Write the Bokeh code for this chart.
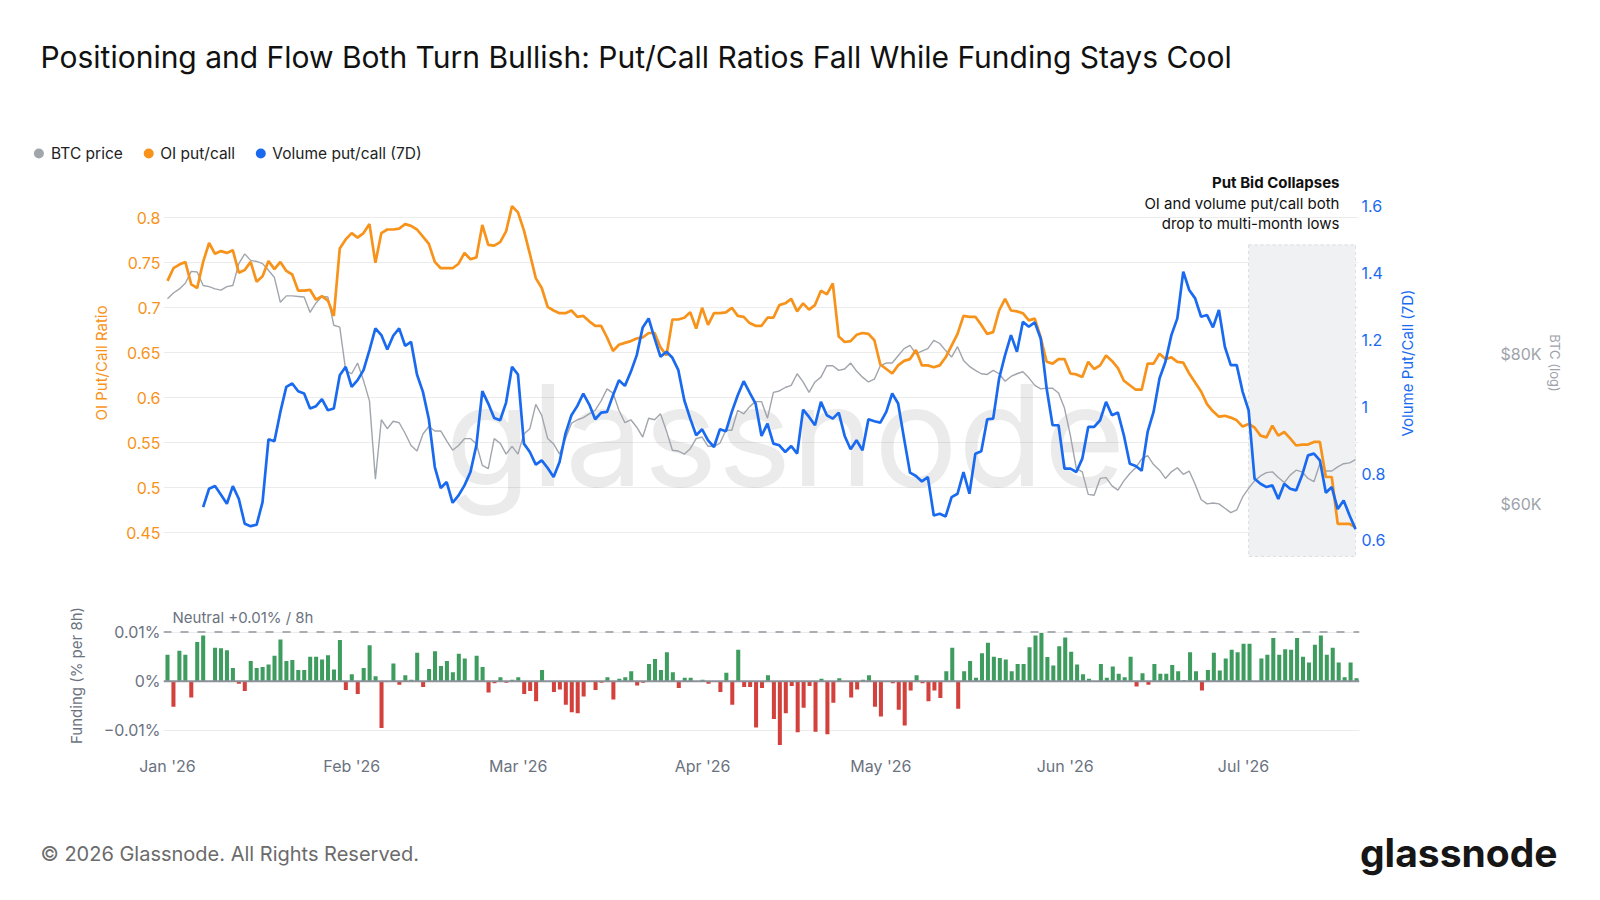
import math
import pandas as pd
from bokeh.plotting import figure
from bokeh.models import (Range1d, LinearAxis, LogAxis, LogScale, FixedTicker,
                          CustomJSTickFormatter, BoxAnnotation, Label, Span)
from bokeh.layouts import column, row
from bokeh.embed import file_html
from bokeh.resources import INLINE
from bokeh.core.properties import value

NAN = float("nan")
START = "2026-01-01"

TITLE = "Positioning and Flow Both Turn Bullish: Put/Call Ratios Fall While Funding Stays Cool"
LEGEND_LABELS = ["BTC price", "OI put/call", "Volume put/call (7D)"]

oi_put_call = [
    0.730, 0.744, 0.748, 0.751, 0.726, 0.722, 0.751, 0.772, 0.760, 0.763,
    0.761, 0.764, 0.739, 0.742, 0.751, 0.729, 0.735, 0.752, 0.743, 0.751,
    0.741, 0.737, 0.719, 0.719, 0.720, 0.709, 0.713, 0.708, 0.691, 0.766,
    0.776, 0.783, 0.778, 0.783, 0.793, 0.750, 0.783, 0.787, 0.787, 0.788,
    0.793, 0.791, 0.787, 0.779, 0.771, 0.751, 0.744, 0.744, 0.744, 0.749,
    0.761, 0.754, 0.756, 0.792, 0.770, 0.769, 0.773, 0.785, 0.813, 0.806,
    0.786, 0.760, 0.733, 0.722, 0.701, 0.697, 0.694, 0.694, 0.697, 0.690,
    0.691, 0.685, 0.680, 0.680, 0.667, 0.652, 0.659, 0.661, 0.663, 0.666,
    0.667, 0.672, 0.672, 0.656, 0.647, 0.687, 0.687, 0.689, 0.695, 0.677,
    0.700, 0.681, 0.694, 0.694, 0.695, 0.700, 0.691, 0.690, 0.683, 0.680,
    0.680, 0.689, 0.689, 0.703, 0.705, 0.710, 0.696, 0.705, 0.698, 0.703,
    0.719, 0.715, 0.727, 0.668, 0.662, 0.663, 0.670, 0.672, 0.671, 0.664,
    0.637, 0.632, 0.627, 0.636, 0.641, 0.643, 0.653, 0.636, 0.636, 0.634,
    0.636, 0.645, 0.658, 0.671, 0.691, 0.690, 0.690, 0.681, 0.671, 0.673,
    0.697, 0.710, 0.697, 0.696, 0.694, 0.686, 0.688, 0.667, 0.640, 0.638,
    0.643, 0.643, 0.627, 0.626, 0.623, 0.640, 0.632, 0.636, 0.647, 0.641,
    0.633, 0.619, 0.614, 0.609, 0.609, 0.638, 0.638, 0.649, 0.643, 0.645,
    0.640, 0.639, 0.627, 0.617, 0.607, 0.593, 0.585, 0.579, 0.580, 0.578,
    0.575, 0.568, 0.571, 0.567, 0.558, 0.556, 0.569, 0.558, 0.562, 0.555,
    0.547, 0.548, 0.548, 0.551, 0.551, 0.512, 0.512, 0.460, 0.460, 0.460,
    0.456,
]

volume_put_call_7d = [
    NAN, NAN, NAN, NAN, NAN, NAN, 0.700, 0.755, 0.763, 0.737,
    0.710, 0.763, 0.725, 0.650, 0.643, 0.647, 0.715, 0.903, 0.897, 0.985,
    1.060, 1.070, 1.047, 1.040, 0.995, 1.002, 1.023, 0.990, 0.995, 1.095,
    1.120, 1.060, 1.080, 1.110, 1.170, 1.235, 1.215, 1.172, 1.213, 1.235,
    1.183, 1.195, 1.097, 1.045, 0.963, 0.820, 0.757, 0.775, 0.713, 0.735,
    0.765, 0.805, 0.885, 1.047, 1.010, 0.967, 0.960, 1.013, 1.120, 1.097,
    0.890, 0.865, 0.827, 0.840, 0.817, 0.790, 0.835, 0.920, 0.975, 1.003,
    1.040, 1.007, 0.963, 0.983, 0.985, 1.035, 1.080, 1.063, 1.105, 1.155,
    1.238, 1.265, 1.205, 1.150, 1.165, 1.147, 1.110, 1.020, 0.965, 0.915,
    0.933, 0.900, 0.880, 0.933, 0.927, 0.985, 1.035, 1.077, 1.043, 1.010,
    0.913, 0.950, 0.890, 0.885, 0.865, 0.883, 0.860, 0.992, 0.970, 0.945,
    1.015, 0.975, 0.965, 0.983, 0.913, 0.873, 0.900, 0.870, 0.963, 0.957,
    0.953, 0.985, 1.040, 1.010, 0.905, 0.803, 0.793, 0.777, 0.790, 0.675,
    0.680, 0.672, 0.730, 0.740, 0.805, 0.740, 0.860, 0.867, 0.963, 0.965,
    1.085, 1.155, 1.215, 1.165, 1.255, 1.240, 1.253, 1.205, 1.055, 0.945,
    0.945, 0.815, 0.815, 0.805, 0.845, 0.940, 0.940, 0.960, 1.015, 0.975,
    0.983, 0.915, 0.830, 0.823, 0.809, 0.925, 0.985, 1.085, 1.135, 1.215,
    1.265, 1.405, 1.350, 1.325, 1.270, 1.275, 1.238, 1.290, 1.180, 1.125,
    1.125, 1.045, 0.990, 0.785, 0.770, 0.760, 0.765, 0.724, 0.770, 0.755,
    0.750, 0.795, 0.855, 0.860, 0.840, 0.743, 0.760, 0.694, 0.720, 0.675,
    0.634,
]

btc_price = [
    88900, 89900, 90600, 91600, 93700, 93600, 91200, 91000, 90600, 90400,
    91000, 91200, 95100, 96900, 95700, 95500, 95100, 93900, 92600, 88300,
    89400, 89400, 89300, 89200, 86600, 88200, 89300, 89200, 84500, 84200,
    77500, 77000, 78600, 76000, 73100, 62900, 70500, 69300, 70300, 70100,
    68700, 67100, 66400, 68600, 69600, 69000, 69000, 67700, 66500, 67100,
    68000, 68000, 67300, 64600, 64200, 68000, 67400, 66000, 67000, 66000,
    68600, 69300, 72600, 71100, 68000, 67300, 66000, 68000, 70000, 70500,
    70800, 71300, 71800, 73100, 74800, 74200, 71800, 70100, 70500, 69500,
    68200, 70700, 70500, 71300, 69000, 66500, 66400, 66000, 66700, 68000,
    68200, 67000, 67000, 67400, 69100, 69100, 71800, 71300, 72300, 73000,
    73000, 70700, 74300, 74500, 75000, 75300, 77000, 75800, 74300, 75800,
    76500, 78200, 78200, 77500, 77700, 78600, 77400, 76500, 75800, 76200,
    78200, 78600, 78600, 79700, 80800, 81300, 80000, 80400, 80800, 82100,
    81600, 80500, 79500, 81100, 79000, 78100, 77500, 77000, 76900, 77500,
    77000, 75900, 76600, 77000, 77300, 76400, 75300, 74800, 74900, 74900,
    74200, 72100, 68400, 64200, 63800, 61100, 61000, 63000, 63100, 62100,
    61600, 62700, 63600, 64300, 65400, 65800, 64700, 64000, 63000, 63800,
    64300, 63500, 63900, 62300, 60500, 60000, 60100, 60000, 59500, 59000,
    59300, 60800, 61800, 62700, 63300, 63700, 63800, 63100, 62500, 63400,
    64000, 63800, 63000, 62600, 64800, 63900, 63900, 64400, 64800, 64900,
    65300,
]

# funding rate, % per 8h (0 = no bar)
funding_rate = [
    0.0054, -0.0052, 0.0062, 0.0054, -0.0033, 0.0080, 0.0093, 0.0, 0.0068, 0.0067,
    0.0063, 0.0027, -0.0005, -0.0020, 0.0041, 0.0027, 0.0029, 0.0034, 0.0052, 0.0085,
    0.0041, 0.0043, 0.0023, 0.0023, 0.0050, 0.0050, 0.0044, 0.0053, 0.0024, 0.0084,
    -0.0018, 0.0014, -0.0026, 0.0027, 0.0073, 0.0010, -0.0095, 0.0, 0.0036, -0.0007,
    0.0012, 0.0003, 0.0058, -0.0012, 0.0025, 0.0061, 0.0031, 0.0041, 0.0018, 0.0056,
    0.0046, 0.0, 0.0052, 0.0029, -0.0023, -0.0004, 0.0008, -0.0003, 0.0003, 0.0008,
    -0.0026, -0.0020, -0.0041, 0.0023, 0.0, -0.0022, -0.0017, -0.0048, -0.0063, -0.0065,
    -0.0031, 0.0, -0.0018, -0.0003, 0.0008, -0.0037, 0.0005, 0.0008, 0.0020, -0.0009,
    -0.0003, 0.0035, 0.0045, 0.0023, 0.0059, 0.0018, -0.0014, 0.0007, 0.0007, 0.0,
    0.0003, -0.0005, 0.0, -0.0022, 0.0017, -0.0048, 0.0064, -0.0012, -0.0012, -0.0094,
    -0.0014, 0.0012, -0.0077, -0.0130, -0.0065, -0.0010, -0.0104, -0.0054, -0.0010, -0.0103,
    0.0005, -0.0108, -0.0044, 0.0006, 0.0, -0.0033, -0.0017, 0.0003, 0.0012, -0.0052,
    -0.0072, 0.0, -0.0004, -0.0058, -0.0090, -0.0019, 0.0012, -0.0004, -0.0041, -0.0019,
    -0.0034, 0.0020, 0.0068, -0.0056, 0.0020, 0.0041, 0.0007, 0.0057, 0.0078, 0.0050,
    0.0047, 0.0044, 0.0020, 0.0035, 0.0035, 0.0069, 0.0093, 0.0098, 0.0049, 0.0032,
    0.0071, 0.0089, 0.0060, 0.0034, 0.0014, 0.0005, 0.0, 0.0035, 0.0007, 0.0030,
    0.0015, 0.0008, 0.0050, -0.0011, 0.0016, -0.0007, 0.0035, 0.0015, 0.0015, 0.0033,
    0.0020, 0.0002, 0.0059, 0.0020, -0.0019, 0.0023, 0.0058, 0.0022, 0.0046, 0.0064,
    0.0059, 0.0076, 0.0076, 0.0, 0.0046, 0.0054, 0.0088, 0.0054, 0.0065, 0.0064,
    0.0088, 0.0050, 0.0038, 0.0074, 0.0093, 0.0054, 0.0068, 0.0038, 0.0008, 0.0038,
    0.0006,
]

oi_ticks = [0.45, 0.5, 0.55, 0.6, 0.65, 0.7, 0.75, 0.8]
vol_ticks = [0.6, 0.8, 1.0, 1.2, 1.4, 1.6]
btc_ticks = [60000, 80000]
funding_ticks = [-0.01, 0.0, 0.01]
month_starts = ["2026-01-01", "2026-02-01", "2026-03-01", "2026-04-01",
                "2026-05-01", "2026-06-01", "2026-07-01"]
highlight_start, highlight_end = "2026-07-02", "2026-07-20"

# ---------------------------------------------------------------- styling
FONT = "Inter"
ORANGE = "#F7931A"
BLUE = "#1A6AF0"
GREY_LINE = "#A1A5AC"
AXIS_GREY = "#6B7280"
GREEN = "#3D9C5E"
RED = "#D3413D"

W = 1600
FL = 163                    # frame x 163..1359 in main and funding panels
MAIN_W = 1388               # main panel canvas width; BTC scale column to its right
base = pd.Timestamp(START)
dates = pd.date_range(START, periods=len(oi_put_call), freq="D")

VOL_RANGE = (0.5491, 1.71377)
BTC_RANGE = (54135, 114136)


def ms(day):
    return (base + pd.Timedelta(days=day)).value / 1e6


def ts(s):
    return pd.Timestamp(s).value / 1e6


def no_align(fig):
    if "frame_align" in fig.properties():
        fig.frame_align = False
    return fig


def style_axis(a, col, lab_sz="15px"):
    a.axis_line_color = None
    a.major_tick_line_color = None
    a.minor_tick_line_color = None
    a.major_tick_out = 0
    a.major_label_text_color = col
    a.major_label_text_font = FONT
    a.major_label_text_font_size = "16px"
    a.axis_label_text_color = col
    a.axis_label_text_font = FONT
    a.axis_label_text_font_size = lab_sz
    a.axis_label_text_font_style = "normal"


x_range = Range1d(ms(-0.673), ms(200.5))


def blank_fig(h):
    fb = figure(width=W, height=h, x_range=Range1d(0, W), y_range=Range1d(h, 0),
                output_backend="svg", toolbar_location=None,
                min_border_left=0, min_border_right=0, min_border_top=0, min_border_bottom=0,
                x_axis_location=None, y_axis_location=None)
    fb.grid.visible = False
    fb.outline_line_color = None
    return no_align(fb)


# ---------------------------------------------------------------- header (page y 0..168)
hdr = blank_fig(168)
hdr.text(x=[40], y=[56], text=[TITLE], text_font=value(FONT), text_font_size=value("30px"),
         text_color="#111111", text_baseline="middle", text_align="left")
hdr.scatter(x=[38.4, 148.2, 260.3], y=[153, 153, 153], size=10, marker="circle",
            color=[GREY_LINE, ORANGE, BLUE], line_color=None)
hdr.text(x=[50.6, 159.7, 271.8], y=[153, 153, 153], text=LEGEND_LABELS, text_font=value(FONT),
         text_font_size=value("15.5px"), text_color="#222222", text_baseline="middle",
         text_align="left")

# ---------------------------------------------------------------- main panel (page y 168..568, frame 168..557)
p = figure(width=MAIN_W, height=400, x_range=x_range, y_range=Range1d(0.42256, 0.85478),
           x_axis_type="datetime", x_axis_location=None,
           output_backend="svg", toolbar_location=None,
           min_border_left=FL, min_border_right=MAIN_W - 1359, min_border_top=0,
           min_border_bottom=11)
no_align(p)
p.outline_line_color = None
p.extra_y_ranges = {"vol": Range1d(*VOL_RANGE), "btc": Range1d(*BTC_RANGE)}
p.extra_y_scales = {"btc": LogScale()}

p.xgrid.visible = False
p.ygrid.ticker = FixedTicker(ticks=oi_ticks)
p.ygrid.grid_line_color = "#ECECEC"
p.ygrid.grid_line_width = 1

p.add_layout(BoxAnnotation(left=ts(highlight_start), right=ts(highlight_end), top=0.770,
                           bottom=0.4237, fill_color="#EEF0F2", fill_alpha=0.95,
                           line_color="#9EA3AA", line_dash="3 3", line_width=1,
                           level="underlay"))

p.text(x=[ms(104)], y=[0.5592], text=["glassnode"], text_font=value(FONT),
       text_font_size=value("140px"), text_color="#000000", text_alpha=0.08,
       text_align="center", text_baseline="middle")

p.line(dates, btc_price, y_range_name="btc", line_color=GREY_LINE, line_width=1.4)
p.line(dates, oi_put_call, line_color=ORANGE, line_width=2.7)
p.line(dates, volume_put_call_7d, y_range_name="vol", line_color=BLUE, line_width=2.7)

for yv, txt, style in [(0.8392, "Put Bid Collapses", "bold"),
                       (0.8159, "OI and volume put/call both", "normal"),
                       (0.7937, "drop to multi-month lows", "normal")]:
    p.add_layout(Label(x=ms(197.3), y=yv, text=txt, text_align="right", text_baseline="middle",
                       text_font=FONT, text_font_size="15px", text_font_style=style,
                       text_color="#111111"))

ax = p.yaxis[0]
ax.ticker = FixedTicker(ticks=oi_ticks)
ax.formatter = CustomJSTickFormatter(code="return tick.toFixed(2).replace(/0+$/, '').replace(/\\.$/, '');")
ax.axis_label = "OI Put/Call Ratio"
style_axis(ax, ORANGE)
ax.major_label_standoff = 3
ax.axis_label_standoff = 12

vol_axis = LinearAxis(y_range_name="vol", ticker=FixedTicker(ticks=vol_ticks),
                      formatter=CustomJSTickFormatter(code="return tick.toFixed(1).replace(/\\.0$/, '');"))
p.add_layout(vol_axis, "right")
style_axis(vol_axis, BLUE)
vol_axis.major_label_standoff = 3

# ---------------------------------------------------------------- right scale column (page x 1388..1600)
# left side: title of the volume scale (reads bottom-to-top); right side: BTC log scale
side = figure(width=W - MAIN_W, height=400, x_range=Range1d(0, 1), y_range=Range1d(*BTC_RANGE),
              y_axis_type="log", y_axis_location="right", x_axis_location=None,
              output_backend="svg", toolbar_location=None,
              min_border_left=1420 - MAIN_W, min_border_right=W - 1497, min_border_top=0,
              min_border_bottom=11)
no_align(side)
side.outline_line_color = None
side.grid.visible = False
btc_axis = side.yaxis[0]
btc_axis.ticker = FixedTicker(ticks=btc_ticks)
btc_axis.formatter = CustomJSTickFormatter(code="return '$' + Math.round(tick / 1000) + 'K';")
btc_axis.axis_label = "BTC (log)"
style_axis(btc_axis, "#9EA3AA", "13px")
btc_axis.major_label_standoff = 3
btc_axis.axis_label_standoff = 2

vol_title_axis = LogAxis(ticker=FixedTicker(ticks=[]), axis_label="Volume Put/Call (7D)")
side.add_layout(vol_title_axis, "left")
style_axis(vol_title_axis, BLUE)
vol_title_axis.major_label_standoff = 0
vol_title_axis.axis_label_standoff = 4

# ---------------------------------------------------------------- funding panel (page y 568..800, frame 600..750)
f = figure(width=W, height=232, x_range=x_range, y_range=Range1d(-0.0141, 0.01642),
           x_axis_type="datetime", output_backend="svg", toolbar_location=None,
           min_border_left=FL, min_border_right=W - 1359, min_border_top=32, min_border_bottom=50)
no_align(f)
f.outline_line_color = None
f.xgrid.visible = False
f.ygrid.ticker = FixedTicker(ticks=[-0.01, 0.01])
f.ygrid.grid_line_color = "#ECECEC"

bar_colors = [GREEN if v >= 0 else RED for v in funding_rate]
f.vbar(x=dates, top=funding_rate, bottom=0, width=0.68 * 86400000, fill_color=bar_colors,
       line_color=None)
f.add_layout(Span(location=0, dimension="width", line_color="#8C9199", line_width=2))
f.add_layout(Span(location=0.01, dimension="width", line_color="#A9ADB4", line_width=2,
                  line_dash="8 9"))
f.add_layout(Label(x=ms(0.84), y=0.01296, text="Neutral +0.01% / 8h", text_align="left",
                   text_baseline="middle", text_font=FONT, text_font_size="15px",
                   text_color=AXIS_GREY))

fx = f.xaxis[0]
fx.ticker = FixedTicker(ticks=[ts(m) for m in month_starts])
fx.formatter = CustomJSTickFormatter(code="""
const M = ['Jan','Feb','Mar','Apr','May','Jun','Jul','Aug','Sep','Oct','Nov','Dec'];
const d = new Date(tick);
return M[d.getUTCMonth()] + " '" + String(d.getUTCFullYear()).slice(2);
""")
fy = f.yaxis[0]
fy.ticker = FixedTicker(ticks=funding_ticks)
fy.formatter = CustomJSTickFormatter(code="""
if (Math.abs(tick) < 1e-12) return '0%';
return (tick < 0 ? '\\u2212' : '') + Math.abs(tick).toFixed(2) + '%';
""")
fy.axis_label = "Funding (% per 8h)"
style_axis(fx, AXIS_GREY)
style_axis(fy, AXIS_GREY)
fx.major_label_standoff = 5
fy.major_label_standoff = 3
fy.axis_label_standoff = 15

# ---------------------------------------------------------------- footer (page y 800..898)
ftr = blank_fig(98)
ftr.text(x=[40], y=[53], text=["© 2026 Glassnode. All Rights Reserved."], text_font=value(FONT),
         text_font_size=value("20px"), text_color="#6B6B6B", text_baseline="middle",
         text_align="left")
ftr.text(x=[1557], y=[52], text=["glassnode"], text_font=value(FONT),
         text_font_size=value("39px"), text_font_style="bold", text_color="#161616",
         text_baseline="middle", text_align="right")

layout = column(hdr, row(p, side), f, ftr)
open("out.html", "w").write(file_html(layout, INLINE))
